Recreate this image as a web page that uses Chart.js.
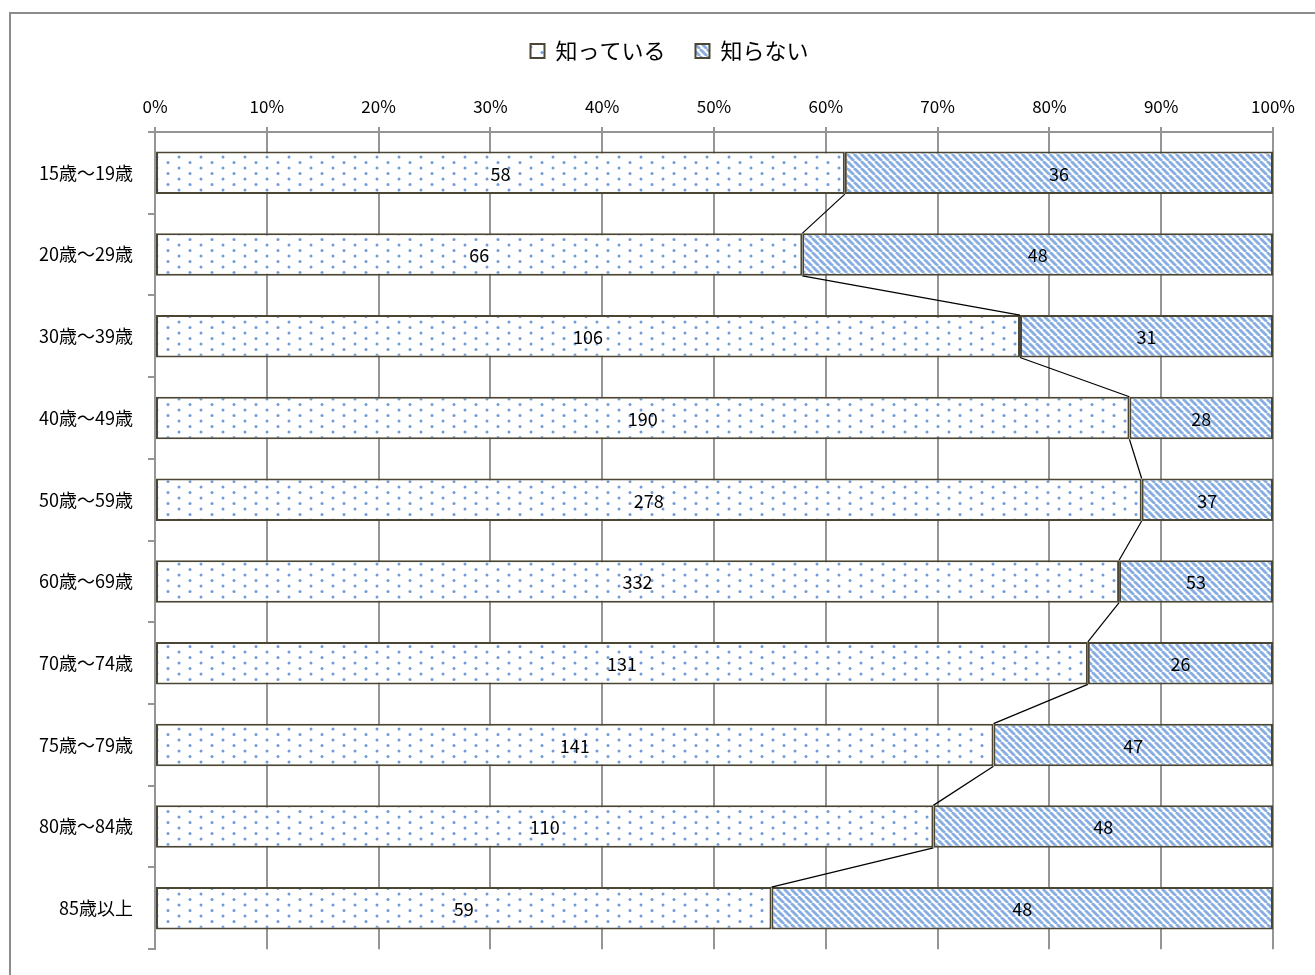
<!DOCTYPE html>
<html>
<head>
<meta charset="utf-8">
<script src="https://cdn.jsdelivr.net/npm/chart.js@4"></script>
<style>
  body { margin: 0; background: #fff; overflow: hidden; }
  #wrap { position: relative; width: 1315px; height: 975px; }
  #frame { position: absolute; left: 9px; top: 12px; width: 1400px; height: 1100px;
           border: 2px solid #8c8c8c; pointer-events: none; }
</style>
</head>
<body>
<div id="wrap">
  <canvas id="chart" width="1315" height="975"></canvas>
  <div id="frame"></div>
</div>
<script>
// 年代区分
const ageGroups = ['15歳～19歳', '20歳～29歳', '30歳～39歳', '40歳～49歳', '50歳～59歳',
                   '60歳～69歳', '70歳～74歳', '75歳～79歳', '80歳～84歳', '85歳以上'];
// 回答数
const knowCounts = [58, 66, 106, 190, 278, 332, 131, 141, 110, 59];
const notKnowCounts = [36, 48, 31, 28, 37, 53, 26, 47, 48, 48];
const seriesNames = ['知っている', '知らない'];
const xTicks = [0, 10, 20, 30, 40, 50, 60, 70, 80, 90, 100];

const FONT = "'Noto Sans CJK JP', 'Noto Sans', sans-serif";

// 100%積み上げ用の割合
const totals = knowCounts.map((v, i) => v + notKnowCounts[i]);
const knowPct = knowCounts.map((v, i) => v / totals[i] * 100);
const notKnowPct = notKnowCounts.map((v, i) => v / totals[i] * 100);

// ドット模様
function dotPattern() {
  const c = document.createElement('canvas');
  c.width = 22; c.height = 11;
  const ctx = c.getContext('2d');
  ctx.fillStyle = '#ffffff';
  ctx.fillRect(0, 0, 22, 11);
  ctx.fillStyle = '#6f9bd8';
  [[3, 3], [14, 8.5]].forEach(([x, y]) => {
    ctx.beginPath();
    ctx.arc(x, y, 1.5, 0, Math.PI * 2);
    ctx.fill();
  });
  return ctx.createPattern(c, 'repeat');
}

// 斜線模様
function hatchPattern() {
  const s = 7;
  const c = document.createElement('canvas');
  c.width = s; c.height = s;
  const ctx = c.getContext('2d');
  ctx.fillStyle = '#ffffff';
  ctx.fillRect(0, 0, s, s);
  ctx.strokeStyle = '#88ade2';
  ctx.lineWidth = 2.8;
  [-s, 0, s].forEach(o => {
    ctx.beginPath();
    ctx.moveTo(o, 0);
    ctx.lineTo(o + s, s);
    ctx.stroke();
  });
  return ctx.createPattern(c, 'repeat');
}

const counts = [knowCounts, notKnowCounts];

// データラベル
const valueLabels = {
  id: 'valueLabels',
  afterDatasetsDraw(chart) {
    const ctx = chart.ctx;
    ctx.save();
    ctx.font = '18px ' + FONT;
    ctx.fillStyle = '#000';
    ctx.textAlign = 'center';
    ctx.textBaseline = 'middle';
    chart.data.datasets.forEach((ds, d) => {
      chart.getDatasetMeta(d).data.forEach((bar, i) => {
        ctx.fillText(String(counts[d][i]), (bar.x + bar.base) / 2, bar.y + 1);
      });
    });
    ctx.restore();
  }
};

// 区分線
const seriesLines = {
  id: 'seriesLines',
  afterDatasetsDraw(chart) {
    const bars = chart.getDatasetMeta(0).data;
    const ctx = chart.ctx;
    ctx.save();
    ctx.strokeStyle = '#000';
    ctx.lineWidth = 1.2;
    for (let i = 0; i < bars.length - 1; i++) {
      const a = bars[i], b = bars[i + 1];
      ctx.beginPath();
      ctx.moveTo(a.x, a.y + a.height / 2);
      ctx.lineTo(b.x, b.y - b.height / 2);
      ctx.stroke();
    }
    ctx.restore();
  }
};

// 凡例を少し右へ
const legendShift = {
  id: 'legendShift',
  afterLayout(chart) {
    chart.legend.left += 33;
    chart.legend.right += 33;
  }
};

const gridColor = '#959595';

new Chart(document.getElementById('chart'), {
  type: 'bar',
  data: {
    labels: ageGroups,
    datasets: [
      { label: seriesNames[0], data: knowPct, backgroundColor: dotPattern(),
        borderColor: '#4b4633', borderWidth: 2, borderSkipped: false },
      { label: seriesNames[1], data: notKnowPct, backgroundColor: hatchPattern(),
        borderColor: '#4b4633', borderWidth: 2, borderSkipped: false }
    ]
  },
  options: {
    indexAxis: 'y',
    responsive: false,
    animation: false,
    devicePixelRatio: 1,
    layout: { padding: { top: 10, left: 0, right: 42, bottom: 22 } },
    datasets: { bar: { categoryPercentage: 1, barPercentage: 0.52 } },
    scales: {
      x: {
        position: 'top',
        stacked: true,
        min: 0, max: 100,
        afterFit(scale) { scale.height = 60; },
        afterBuildTicks(scale) { scale.ticks = xTicks.map(v => ({ value: v })); },
        ticks: {
          callback: v => v + '%',
          color: '#000',
          font: { family: FONT, size: 17 },
          padding: 10,
          maxRotation: 0
        },
        grid: { color: gridColor, lineWidth: 2, tickLength: 5 },
        border: { display: true, color: gridColor, width: 2 }
      },
      y: {
        stacked: true,
        afterFit(scale) { scale.width = 155; },
        ticks: {
          color: '#000',
          font: { family: FONT, size: 18 },
          padding: 15
        },
        grid: { offset: true, drawOnChartArea: false, drawTicks: true, tickLength: 7,
                color: gridColor, lineWidth: 2 },
        border: { display: true, color: gridColor, width: 2 }
      }
    },
    plugins: {
      legend: {
        position: 'top',
        labels: {
          color: '#000',
          font: { family: FONT, size: 22 },
          boxWidth: 14,
          boxHeight: 14,
          padding: 30
        }
      },
      tooltip: { enabled: false }
    }
  },
  plugins: [legendShift, seriesLines, valueLabels]
});
</script>
</body>
</html>
